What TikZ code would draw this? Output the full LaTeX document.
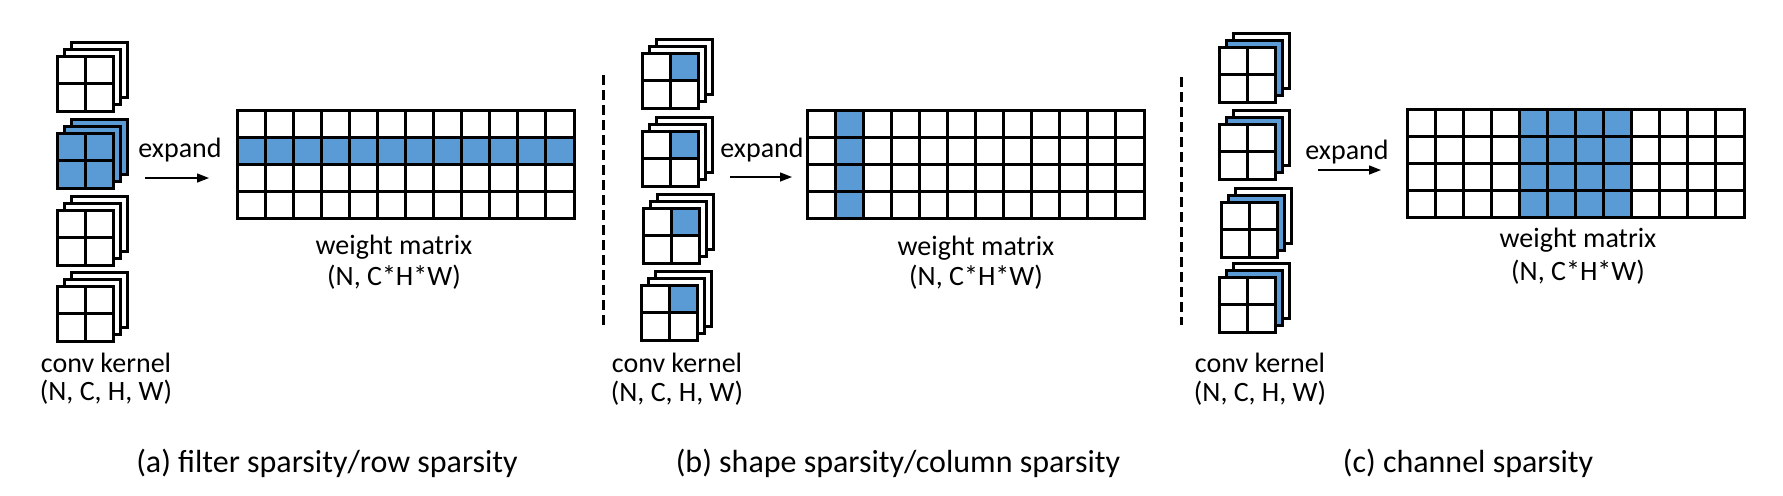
\documentclass[tikz,border=0pt]{standalone}
\usepackage{fontspec}
\setmainfont{Carlito}
\usetikzlibrary{arrows.meta}
\definecolor{cblue}{HTML}{5B9BD5}
\tikzset{
  kline/.style={line width=1.5pt, draw=black},
  dashline/.style={line width=1.5pt, dash pattern=on 5pt off 2.5pt},
  arr/.style={line width=0.7pt, -{Triangle[length=6pt,width=4.5pt]}},
  lbl/.style={inner sep=0pt, font=\fontsize{14}{17}\selectfont},
  captxt/.style={inner sep=0pt, font=\fontsize{16}{19}\selectfont},
}
% kernel: x, y (front top-left), back fill, middle fill, front fill, top-right cell fill
\newcommand\kernelstack[6]{%
  \draw[kline,fill=#3] (#1+14,#2-14) rectangle ++(56,55);
  \draw[kline,fill=#4] (#1+7,#2-7) rectangle ++(56,55);
  \draw[kline,fill=#5] (#1,#2) rectangle ++(56,55);
  \fill[#6] (#1+28,#2) rectangle ++(28,27.5);
  \draw[kline] (#1+28,#2) -- ++(0,55);
  \draw[kline] (#1,#2+27.5) -- ++(56,0);
  \draw[kline] (#1,#2) rectangle ++(56,55);
}
\newcommand\wmatrix[2]{%
  \foreach \i in {1,...,11} \draw[kline] ({#1+\i*337/12},#2) -- ++(0,108);
  \foreach \j in {1,2,3} \draw[kline] (#1,{#2+\j*27}) -- ++(337,0);
  \draw[kline] (#1,#2) rectangle ++(337,108);
}
\begin{document}
\begin{tikzpicture}[x=0.5pt,y=-0.5pt]
\useasboundingbox[fill=white] (0,0) rectangle (1783,495);

% ---------- panel (a) ----------
\kernelstack{57}{56}{white}{white}{white}{white}
\kernelstack{57}{133}{cblue}{cblue}{cblue}{cblue}
\kernelstack{57}{210}{white}{white}{white}{white}
\kernelstack{57}{286}{white}{white}{white}{white}
\node[lbl] (ka1) at (106,363) {conv kernel};
\node[lbl] (ka2) at (106,392) {(N, C, H, W)};
\node[lbl] (ea) at (180,150) {expand};
\coordinate (aa1) at (145,178);
\coordinate (aa2) at (209,178);
\draw[arr] (aa1) -- (aa2);
\fill[cblue] (237,137) rectangle (574,164);
\wmatrix{237}{110}
\node[lbl] (wa1) at (394,247) {weight matrix};
\node[lbl] (wa2) at (394,277) {(N, C*H*W)};
\node[captxt] (capa) at (327,463) {(a) filter sparsity/row sparsity};

% ---------- divider a/b ----------
\coordinate (d1t) at (603,75);
\coordinate (d1b) at (603,325);
\draw[dashline] (d1t) -- (d1b);

% ---------- panel (b) ----------
\kernelstack{642}{53}{white}{white}{white}{cblue}
\kernelstack{642}{131}{white}{white}{white}{cblue}
\kernelstack{643}{208}{white}{white}{white}{cblue}
\kernelstack{641}{285}{white}{white}{white}{cblue}
\node[lbl] (kb1) at (677,363) {conv kernel};
\node[lbl] (kb2) at (677,393) {(N, C, H, W)};
\node[lbl] (eb) at (762,150) {expand};
\coordinate (ab1) at (730,177);
\coordinate (ab2) at (792,177);
\draw[arr] (ab1) -- (ab2);
\fill[cblue] ({807+337/12},110) rectangle ({807+2*337/12},218);
\wmatrix{807}{110}
\node[lbl] (wb1) at (976,248) {weight matrix};
\node[lbl] (wb2) at (976,277) {(N, C*H*W)};
\node[captxt] (capb) at (898,463) {(b) shape sparsity/column sparsity};

% ---------- divider b/c ----------
\coordinate (d2t) at (1181,77);
\coordinate (d2b) at (1181,325);
\draw[dashline] (d2t) -- (d2b);

% ---------- panel (c) ----------
\kernelstack{1219}{47}{white}{cblue}{white}{white}
\kernelstack{1219}{124}{white}{cblue}{white}{white}
\kernelstack{1221}{202}{white}{cblue}{white}{white}
\kernelstack{1219}{277}{white}{cblue}{white}{white}
\node[lbl] (kc1) at (1260,363) {conv kernel};
\node[lbl] (kc2) at (1260,393) {(N, C, H, W)};
\node[lbl] (ec) at (1347,152) {expand};
\coordinate (ac1) at (1318,170);
\coordinate (ac2) at (1381,170);
\draw[arr] (ac1) -- (ac2);
\fill[cblue] ({1407+4*337/12},109) rectangle ({1407+8*337/12},217);
\wmatrix{1407}{109}
\node[lbl] (wc1) at (1578,240) {weight matrix};
\node[lbl] (wc2) at (1578,272) {(N, C*H*W)};
\node[captxt] (capc) at (1468,463) {(c) channel sparsity};
\end{tikzpicture}
\end{document}
